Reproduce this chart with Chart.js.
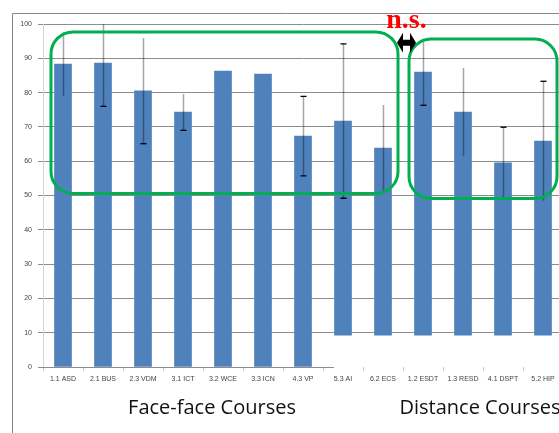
<!DOCTYPE html>
<html>
<head>
<meta charset="utf-8">
<script src="https://cdn.jsdelivr.net/npm/chart.js@4/dist/chart.umd.min.js"></script>
<style>
    html, body { margin: 0; padding: 0; background: #fff; overflow: hidden; }
    #wrap { position: absolute; left: 0; top: 0; width: 563px; height: 433px; }
</style>
</head>
<body>
<div id="wrap"><canvas id="courseChart" width="563" height="433"></canvas></div>
<script>
// values
const categories = ['1.1 ASD', '2.1 BUS', '2.3 VDM', '3.1 ICT', '3.2 WCE', '3.3 ICN', '4.3 VP',
    '5.3 AI', '6.2 ECS', '1.2 ESDT', '1.3 RESD', '4.1 DSPT', '5.2 HIP'];
const means = [88.3, 88.6, 80.5, 74.3, 86.3, 85.4, 67.3, 71.7, 63.8, 86.0, 74.3, 59.5, 65.9];
const errors = [9.3, 12.6, 15.4, 5.3, 0, 0, 11.6, 22.5, 12.6, 9.7, 12.9, 10.4, 17.4];
// the right-hand part of the picture sits on a raised baseline
const barBase = [0, 0, 0, 0, 0, 0, 0, 9.3, 9.3, 9.3, 9.3, 9.3, 9.3];
const capTop = [false, false, false, false, false, false, true, true, false, false, false, true, true];
const capBottom = [false, true, true, true, false, false, true, true, false, true, false, false, false];
const groupLabels = ['Face-face Courses', 'Distance Courses'];
const yMin = 0, yMax = 100, yStep = 10;

const tickFont = { family: 'Liberation Sans', size: 7 };

const overlayPlugin = {
    id: 'overlay',
    afterDatasetsDraw(chart) {
        const ctx = chart.ctx;
        const x = chart.scales.x, y = chart.scales.y;
        const area = chart.chartArea;

        // zero line only under the left part
        ctx.save();
        ctx.strokeStyle = '#8c8c8c';
        ctx.lineWidth = 1;
        ctx.beginPath();
        ctx.moveTo(area.left - 5, Math.round(y.getPixelForValue(0)) + 0.5);
        ctx.lineTo(x.getPixelForValue(7) - 9, Math.round(y.getPixelForValue(0)) + 0.5);
        ctx.stroke();

        // error bars
        errors.forEach((e, i) => {
            if (!e) return;
            const cx = Math.round(x.getPixelForValue(i)) + 0.5;
            const top = y.getPixelForValue(Math.min(means[i] + e, yMax));
            const bot = y.getPixelForValue(means[i] - e);
            ctx.strokeStyle = 'rgba(0,0,0,0.35)';
            ctx.lineWidth = 1.5;
            ctx.beginPath();
            ctx.moveTo(cx, top);
            ctx.lineTo(cx, bot);
            ctx.stroke();
            ctx.strokeStyle = '#000';
            ctx.lineWidth = 1.3;
            ctx.beginPath();
            if (capTop[i]) { ctx.moveTo(cx - 3, top); ctx.lineTo(cx + 3, top); }
            if (capBottom[i]) { ctx.moveTo(cx - 3, bot); ctx.lineTo(cx + 3, bot); }
            ctx.stroke();
        });
        ctx.restore();
    },
    afterDraw(chart) {
        const ctx = chart.ctx;
        const x = chart.scales.x, y = chart.scales.y;

        ctx.save();
        // outer frame
        ctx.strokeStyle = '#878787';
        ctx.lineWidth = 1;
        ctx.beginPath();
        ctx.moveTo(12.5, 433);
        ctx.lineTo(12.5, 13.5);
        ctx.lineTo(chart.width, 13.5);
        ctx.stroke();

        // green group boxes
        ctx.strokeStyle = '#00b050';
        ctx.lineWidth = 3;
        const lx0 = x.getPixelForValue(0) - 12, lx1 = x.getPixelForValue(8) + 15;
        const ly0 = y.getPixelForValue(97.7), ly1 = y.getPixelForValue(50.6);
        ctx.beginPath();
        ctx.roundRect(lx0, ly0, lx1 - lx0, ly1 - ly0, 22);
        ctx.stroke();
        const rx0 = x.getPixelForValue(9) - 14, rx1 = x.getPixelForValue(12) + 14;
        const ry0 = y.getPixelForValue(95.6), ry1 = y.getPixelForValue(49.1);
        ctx.beginPath();
        ctx.roundRect(rx0, ry0, rx1 - rx0, ry1 - ry0, 22);
        ctx.stroke();

        // double arrow between the boxes
        const ax0 = lx1 - 1, ax1 = rx0 + 7, ay = y.getPixelForValue(94.5);
        ctx.fillStyle = '#000';
        ctx.beginPath();
        ctx.moveTo(ax0, ay);
        ctx.lineTo(ax0 + 6, ay - 10);
        ctx.lineTo(ax0 + 6, ay - 3);
        ctx.lineTo(ax1 - 6, ay - 3);
        ctx.lineTo(ax1 - 6, ay - 10);
        ctx.lineTo(ax1, ay);
        ctx.lineTo(ax1 - 6, ay + 10);
        ctx.lineTo(ax1 - 6, ay + 3);
        ctx.lineTo(ax0 + 6, ay + 3);
        ctx.lineTo(ax0 + 6, ay + 10);
        ctx.closePath();
        ctx.fill();

        // n.s.
        ctx.fillStyle = '#ff0000';
        ctx.font = 'bold 28px "Liberation Serif"';
        ctx.textAlign = 'center';
        ctx.textBaseline = 'alphabetic';
        ctx.fillText('n.s.', (ax0 + ax1) / 2, 28);

        // group captions
        ctx.fillStyle = '#111';
        ctx.font = '20px "Open Sans"';
        ctx.textBaseline = 'middle';
        ctx.fillText(groupLabels[0], (x.getPixelForValue(3) + x.getPixelForValue(4)) / 2 + 9, 408);
        ctx.fillText(groupLabels[1], (x.getPixelForValue(10) + x.getPixelForValue(11)) / 2 - 3, 408);
        ctx.restore();
    }
};

new Chart(document.getElementById('courseChart'), {
    type: 'bar',
    data: {
        labels: categories,
        datasets: [{
            data: categories.map((c, i) => [barBase[i], means[i]]),
            backgroundColor: '#4f81bd',
            barThickness: 17,
            borderSkipped: false
        }]
    },
    options: {
        responsive: false,
        animation: false,
        devicePixelRatio: 1,
        layout: { padding: { top: 24, left: 0, right: 0, bottom: 0 } },
        plugins: {
            legend: { display: false },
            tooltip: { enabled: false }
        },
        scales: {
            x: {
                grid: {
                    offset: true,
                    drawOnChartArea: false,
                    drawTicks: true,
                    tickLength: 4,
                    color: '#c8c8c8'
                },
                border: { display: false },
                ticks: {
                    font: tickFont,
                    color: '#444',
                    maxRotation: 0,
                    autoSkip: false,
                    padding: 4
                },
                afterFit: function(scale) { scale.height = 66; }
            },
            y: {
                min: yMin,
                max: yMax,
                ticks: {
                    stepSize: yStep,
                    font: tickFont,
                    color: '#444',
                    padding: 6
                },
                grid: {
                    color: function(c) { return c.tick && c.tick.value === 0 ? 'rgba(0,0,0,0)' : '#8c8c8c'; },
                    tickLength: 5
                },
                border: { color: '#d4d4d4' },
                afterFit: function(scale) { scale.width = 43; }
            }
        }
    },
    plugins: [overlayPlugin]
});
</script>
</body>
</html>
